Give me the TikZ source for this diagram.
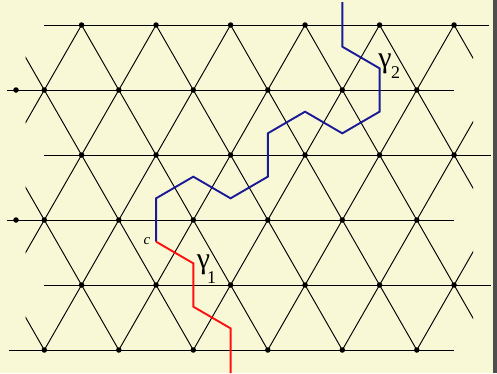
\documentclass[tikz,border=0pt]{standalone}
\usepackage{fontspec}
\setmainfont{Liberation Serif}
\definecolor{bgcol}{RGB}{248,247,214}
\definecolor{edgecol}{RGB}{78,78,78}
\definecolor{pathblue}{RGB}{26,26,150}
\definecolor{pathred}{RGB}{255,16,16}
\tikzset{
  lat/.style={line width=0.95bp, black},
  dot/.style={circle, fill=black, inner sep=0pt, minimum size=5.5bp},
  bluepath/.style={line width=1.9bp, pathblue, line join=miter},
  redpath/.style={line width=1.9bp, pathred, line join=miter},
  gam/.style={inner sep=0pt, font=\fontsize{30}{30}\selectfont},
  gsub/.style={inner sep=0pt, font=\fontsize{18}{18}\selectfont},
  clab/.style={inner sep=0pt, font=\fontsize{15}{15}\selectfont\itshape}
}
\begin{document}
\begin{tikzpicture}[x=1bp,y=-1bp]
\useasboundingbox (0,0) rectangle (497,373);
\fill[bgcol] (0,0) rectangle (497,373);
\fill[edgecol] (493,0) rectangle (497,373);
% horizontal lattice lines
\draw[lat] (44.4,25) -- (489,25);
\draw[lat] (7,90) -- (454,90);
\draw[lat] (44.4,155) -- (491,155);
\draw[lat] (7,220) -- (454,220);
\draw[lat] (44.4,285) -- (491,285);
\draw[lat] (9,350) -- (454,350);
% diagonal lattice lines
\begin{scope}
  \clip (25.7,0) rectangle (473,373);
  \foreach \k in {-5,...,8}{
    \draw[lat] ({81.55+74.5*\k},25) -- ++(186.25,325);
    \draw[lat] ({81.55+74.5*\k},25) -- ++(-186.25,325);
  }
\end{scope}
% lattice vertices
\foreach \j in {0,...,5}{
  \foreach \i in {0,...,5}{
    \node[dot] (v-\i-\j) at ({44.3+74.5*\i+37.25*(1-mod(\j,2))},{25+65*\j}) {};
  }
}
\node[dot] (e1) at (16,90) {};
\node[dot] (e3) at (16,220) {};
% path vertices
\coordinate (b0) at (342.3,2);
\coordinate (b1) at (342.3,46.67);
\coordinate (b2) at (379.55,68.33);
\coordinate (b3) at (379.55,111.67);
\coordinate (b4) at (342.3,133.33);
\coordinate (b5) at (305.05,111.67);
\coordinate (b6) at (267.8,133.33);
\coordinate (b7) at (267.8,176.67);
\coordinate (b8) at (230.55,198.33);
\coordinate (b9) at (193.3,176.67);
\coordinate (b10) at (156.05,198.33);
\coordinate (c) at (156.05,241.67);
\coordinate (r1) at (193.3,263.33);
\coordinate (r2) at (193.3,306.67);
\coordinate (r3) at (230.55,328.33);
\coordinate (r4) at (230.55,373);
\draw[bluepath] (b0) -- (b1) -- (b2) -- (b3) -- (b4) -- (b5) -- (b6) -- (b7) -- (b8) -- (b9) -- (b10) -- (c);
\draw[redpath] (c) -- (r1) -- (r2) -- (r3) -- (r4);
% labels
\node[clab] (clabel) at (147,241) {c};
\node[gam] (g1) at (203.5,264.5) {γ};
\node[gsub] (g1s) at (211.5,278) {1};
\node[gam] (g2) at (385,64) {γ};
\node[gsub] (g2s) at (395.5,73) {2};
\end{tikzpicture}
\end{document}
